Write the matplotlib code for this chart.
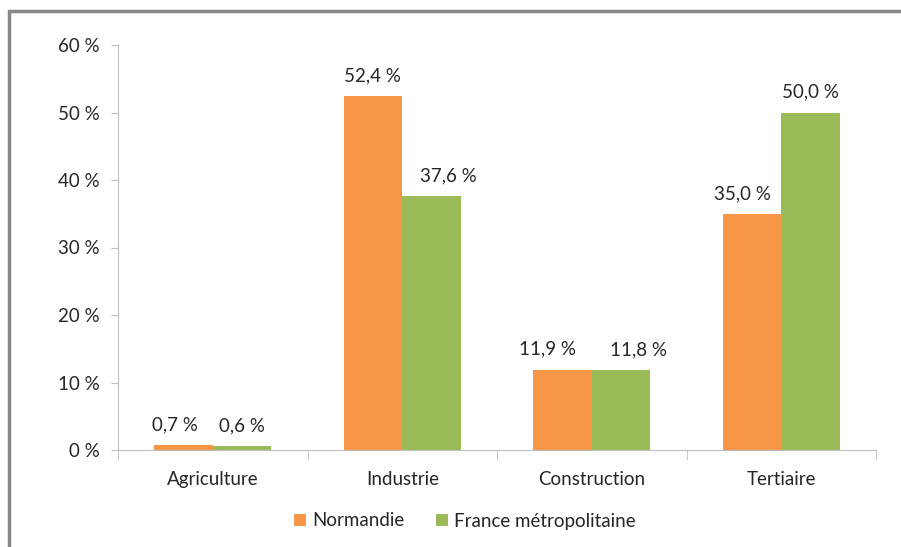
import matplotlib.pyplot as plt
import numpy as np
from matplotlib.patches import Rectangle

secteurs = ['Agriculture', 'Industrie', 'Construction', 'Tertiaire']
normandie = [0.7, 52.4, 11.9, 35.0]
france = [0.6, 37.6, 11.8, 50.0]
series = ['Normandie', 'France métropolitaine']
couleurs = ['#F79646', '#9BBB59']

# décalage horizontal des étiquettes (en points) pour éviter qu'elles se touchent
decal_normandie = [-6, 0, -11, -7]
decal_france = [0, 12, 12.5, 0]

plt.rcParams['font.family'] = ['Lato', 'DejaVu Sans']
texte = '#262626'
fs = 13.5

fig = plt.figure(figsize=(9.01, 5.47), dpi=100)
ax = fig.add_axes([118 / 901, 1 - 450 / 547, (876 - 118) / 901, (450 - 45) / 547])

# cadre gris autour du graphique
fig.patches.append(Rectangle((9 / 901, -0.1), 1.2, 1 - 11 / 547 + 0.1,
                             transform=fig.transFigure, fill=False,
                             edgecolor='#868686', linewidth=2.5))

x = np.arange(len(secteurs))
w = 0.31
b1 = ax.bar(x - w / 2, normandie, w, color=couleurs[0], label=series[0])
b2 = ax.bar(x + w / 2, france, w, color=couleurs[1], label=series[1])

for bars, vals, dx in [(b1, normandie, decal_normandie), (b2, france, decal_france)]:
    for rect, v, d in zip(bars, vals, dx):
        ax.annotate(f'{v:.1f} %'.replace('.', ','),
                    (rect.get_x() + rect.get_width() / 2, v),
                    xytext=(d, 8.5), textcoords='offset points',
                    ha='center', va='bottom', fontsize=fs, color=texte)

ax.set_xlim(-0.5, len(secteurs) - 0.5)
ax.set_ylim(0, 60)
ax.set_yticks(range(0, 61, 10))
ax.set_yticklabels([f'{t} %' for t in range(0, 61, 10)])
ax.set_xticks(x)
ax.set_xticklabels(secteurs)
ax.set_xticks(np.arange(-0.5, len(secteurs)), minor=True)

for s in ['top', 'right']:
    ax.spines[s].set_visible(False)
for s in ['left', 'bottom']:
    ax.spines[s].set_color('#BFBFBF')
ax.tick_params(axis='y', length=5, color='#BFBFBF', labelsize=fs,
               labelcolor=texte, pad=8)
ax.tick_params(axis='x', which='major', length=0, labelsize=fs,
               labelcolor=texte, pad=15)
ax.tick_params(axis='x', which='minor', length=7, color='#BFBFBF')

fig.legend(loc='center', bbox_to_anchor=(465 / 901, 1 - 521 / 547), ncol=2,
           frameon=False, fontsize=fs, handlelength=0.65, handleheight=0.65,
           handletextpad=0.3, columnspacing=1.7, labelcolor=texte)

fig.savefig('out.png', dpi=100)
